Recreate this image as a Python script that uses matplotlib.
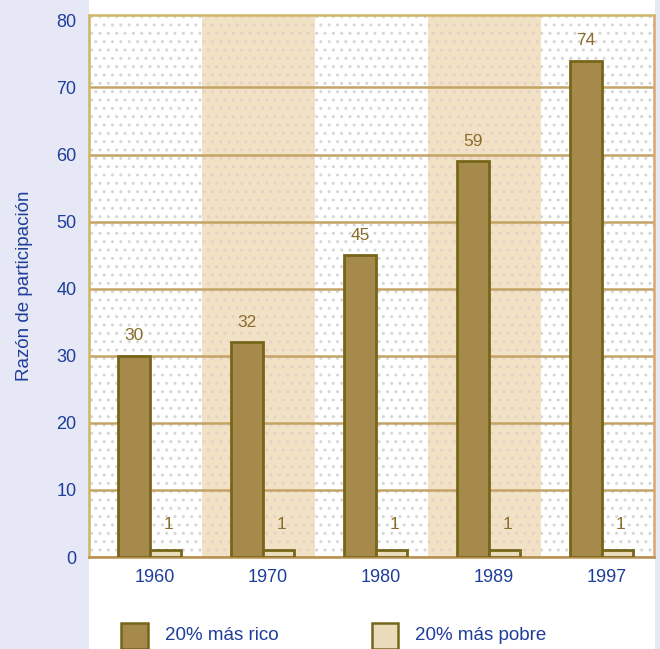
import numpy as np
import matplotlib.pyplot as plt
from matplotlib.patches import Rectangle

# Razón de participación en el ingreso: 20% más rico vs 20% más pobre
years = ['1960', '1970', '1980', '1989', '1997']
rich = [30, 32, 45, 59, 74]
poor = [1, 1, 1, 1, 1]
yticks = [0, 10, 20, 30, 40, 50, 60, 70, 80]

plt.rcParams['font.family'] = ['Liberation Sans', 'DejaVu Sans']
plt.rcParams['hatch.linewidth'] = 1.0

blue = '#1f3d9a'
olive = '#76661a'
rich_col = '#a68a4c'
poor_col = '#eadbbb'
label_col = '#8a6c2c'

fig = plt.figure(figsize=(6.6, 6.49), dpi=100, facecolor='#e6e9f5')
# white panel under the plot area and legend
fig.patches.append(Rectangle((89 / 660, 0), 566 / 660, 1, transform=fig.transFigure,
                             facecolor='white', edgecolor='none', zorder=-1))

ax = fig.add_axes([89 / 660, 92 / 649, 565 / 660, 542 / 649])
ax.set_facecolor('white')
x = np.arange(len(years))

# alternating column bands
for i in x:
    if i % 2 == 0:
        ax.axvspan(i - 0.5, i + 0.5, facecolor='white', edgecolor='#d6d6d6',
                   hatch='..', lw=0, zorder=0.2)
    else:
        ax.axvspan(i - 0.5, i + 0.5, facecolor='#f1e2c6', edgecolor='#e9cfc6',
                   hatch='..', lw=0, zorder=0.2)

ax.bar(x - 0.1, rich, 0.28, color=rich_col, edgecolor=olive, linewidth=2, zorder=3)
ax.bar(x + 0.175, poor, 0.27, color=poor_col, edgecolor=olive, linewidth=2, zorder=3)

for xi, v in zip(x, rich):
    ax.text(xi - 0.1, v + 3.0, str(v), ha='center', va='center',
            color=label_col, fontsize=12.5)
for xi, v in zip(x, poor):
    ax.text(xi + 0.2, v + 3.8, str(v), ha='center', va='center',
            color=label_col, fontsize=12.5)

ax.set_xlim(-0.5, 4.5)
ax.set_ylim(0, 80.8)
ax.set_yticks(yticks)
ax.set_xticks(x + 0.08, years)
ax.tick_params(length=0, colors=blue, labelsize=13, pad=9)

ax.set_axisbelow(True)
ax.yaxis.grid(True, color='#c4a466', linewidth=1.8)
ax.xaxis.grid(False)
# top edge already closes the frame at 80
ax.yaxis.get_gridlines()[-1].set_visible(False)

ax.spines['left'].set_color('#cdb660')
ax.spines['top'].set_color('#cfb868')
ax.spines['right'].set_color('#dda474')
ax.spines['bottom'].set_color('#b89050')
for s in ax.spines.values():
    s.set_linewidth(1.8)

fig.text(25 / 660, 1 - 286 / 649, 'Razón de participación', rotation=90,
         ha='center', va='center', color=blue, fontsize=13.5)

# legend
fig.patches.append(Rectangle((121 / 660, 0), 27 / 660, 26 / 649, transform=fig.transFigure,
                             facecolor=rich_col, edgecolor=olive, linewidth=1.8, zorder=2))
fig.text(165 / 660, 1 - 635 / 649, '20% más rico', ha='left', va='center',
         color=blue, fontsize=13.5)
fig.patches.append(Rectangle((372 / 660, 0), 26 / 660, 26 / 649, transform=fig.transFigure,
                             facecolor=poor_col, edgecolor=olive, linewidth=1.8, zorder=2))
fig.text(415 / 660, 1 - 635 / 649, '20% más pobre', ha='left', va='center',
         color=blue, fontsize=13.5)

fig.savefig('out.png', dpi=100, facecolor=fig.get_facecolor())
